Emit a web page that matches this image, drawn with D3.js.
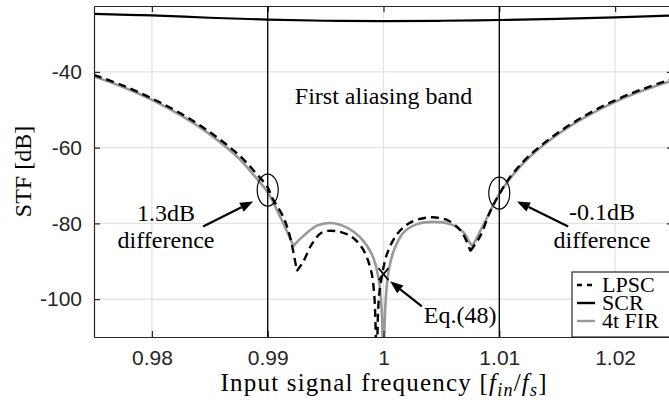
<!DOCTYPE html>
<html>
<head>
<meta charset="utf-8">
<script src="https://cdn.jsdelivr.net/npm/d3@7"></script>
<style>
body{margin:0;background:#fff;}
svg{display:block;}
.tick text{font-family:"Liberation Sans",Arial,sans-serif;font-size:21px;fill:#262626;}
.serif{font-family:"Liberation Serif","Times New Roman",serif;font-size:24px;fill:#000;}
</style>
</head>
<body>
<div id="canvas"></div>
<script>
// values (frequency in f_in/f_s, STF in dB)
var freqLPSC = [0.975,0.9775,0.98,0.9825,0.985,0.9875,0.989,0.99,0.99036,0.99136,0.99194,0.99252,
  0.99309,0.99381,0.99468,0.99583,0.99713,0.99814,0.99886,0.9992,0.99941,0.99957,0.99983,
  1.00029,1.00116,1.00231,1.00404,1.00563,1.00678,1.0075,1.00836,1.00923,1.01,1.011,1.0125,
  1.015,1.0175,1.02,1.0225,1.025];
var stfLPSC = [-40.8,-43.6,-47.0,-51.0,-55.9,-61.9,-66.8,-70.5,-73.1,-78.4,-83.7,-92.6,
  -90.0,-85.5,-82.4,-82.0,-83.3,-86.4,-91.7,-98.8,-130,-101,-94.5,
  -88.2,-82.9,-79.8,-78.4,-79.3,-82.4,-87.3,-83.3,-76.7,-72.3,-67.5,-62.4,
  -56.2,-51.4,-47.5,-44.4,-41.8];

var freqSCR = [0.975,0.98,0.985,0.99,0.995,1.0,1.005,1.01,1.015,1.02,1.025];
var stfSCR = [-24.7,-25.1,-25.7,-26.2,-26.5,-26.6,-26.5,-26.3,-26.0,-25.6,-25.1];

var freqFIR = [0.975,0.9775,0.98,0.9825,0.985,0.9875,0.989,0.99,0.991,0.992,0.99223,0.9925,
  0.99309,0.99425,0.9954,0.99684,0.99799,0.999,0.99957,0.99985,1.0,1.00015,1.00044,1.00088,
  1.00174,1.0029,1.00433,1.00577,1.00692,1.00735,1.00764,1.00793,1.00836,1.00923,1.01,1.011,
  1.0125,1.015,1.0175,1.02,1.0225,1.025];
var stfFIR = [-41.2,-44.0,-47.4,-51.5,-56.5,-62.8,-68.0,-71.8,-77.8,-84.4,-86.0,-85.0,
  -83.3,-80.6,-79.9,-81.1,-83.7,-88.2,-94.4,-103.2,-135,-102.3,-92.6,-87.3,
  -82.4,-80.2,-79.6,-80.2,-82.4,-84.6,-86.0,-84.6,-82.0,-76.7,-72.2,-67.9,
  -62.8,-56.6,-51.8,-47.9,-44.8,-42.2];

var seriesNames = ['LPSC','SCR','4t FIR'];
var xTicks = [0.98,0.99,1,1.01,1.02];
var xTickLabels = ['0.98','0.99','1','1.01','1.02'];
var yTicks = [-100,-80,-60,-40];
var yTickLabels = ['-100','-80','-60','-40'];
var bandEdges = [0.99,1.01];

// margin convention (right edge of the axes sits just past the window)
var m = {t:6,r:-4,b:63,l:94};
var outerWidth = 669, outerHeight = 400;
var w = outerWidth - m.l - m.r,
    h = outerHeight - m.t - m.b;

var svg = d3.select('#canvas')
    .append('svg')
    .attr('width',outerWidth)
    .attr('height',outerHeight);

var plot = svg.append('g')
    .attr('transform','translate(' + m.l + ',' + m.t + ')');

var scaleX = d3.scaleLinear().domain([0.975,1.025]).range([0,w]);
var scaleY = d3.scaleLinear().domain([-110,-22.6]).range([h,0]);

svg.append('defs').append('clipPath').attr('id','clip')
    .append('rect').attr('width',w).attr('height',h);

//grid
plot.selectAll('.gx').data(xTicks).enter().append('line')
    .attr('x1',function(d){return scaleX(d)}).attr('x2',function(d){return scaleX(d)})
    .attr('y1',0).attr('y2',h)
    .attr('stroke','#e2e2e2').attr('stroke-width',1.2);
plot.selectAll('.gy').data(yTicks).enter().append('line')
    .attr('y1',function(d){return scaleY(d)}).attr('y2',function(d){return scaleY(d)})
    .attr('x1',0).attr('x2',w)
    .attr('stroke','#e2e2e2').attr('stroke-width',1.2);

//curves: smooth lobes, joined sharply at the notches / cusps (local minima)
var line = d3.line()
    .x(function(d){return scaleX(d[0])})
    .y(function(d){return scaleY(d[1])})
    .curve(d3.curveCatmullRom.alpha(0.5));

function lobes(fr,v){
    var pts = d3.zip(fr,v), segs = [], cur = [pts[0]];
    for (var i = 1; i < pts.length; i++){
        cur.push(pts[i]);
        if (i < pts.length-1 && v[i] < v[i-1] && v[i] < v[i+1]){
            segs.push(cur);
            cur = [pts[i]];
        }
    }
    segs.push(cur);
    return segs.map(function(s){ return line(s); }).join('');
}

var curves = plot.append('g').attr('clip-path','url(#clip)');

curves.append('path')
    .attr('d',line(d3.zip(freqSCR,stfSCR)))
    .attr('fill','none').attr('stroke','#000').attr('stroke-width',2.2);
curves.append('path')
    .attr('d',lobes(freqFIR,stfFIR))
    .attr('fill','none').attr('stroke','#999').attr('stroke-width',2.6)
    .attr('stroke-linejoin','round');
curves.append('path')
    .attr('d',lobes(freqLPSC,stfLPSC))
    .attr('fill','none').attr('stroke','#000').attr('stroke-width',2.4)
    .attr('stroke-dasharray','8,5');

//axes
function styleAxis(g){
    g.select('.domain').attr('stroke','#262626').attr('stroke-width',1.2);
    g.selectAll('.tick line').attr('stroke','#262626').attr('stroke-width',1.2);
}
plot.append('g').attr('transform','translate(0,' + h + ')')
    .call(d3.axisBottom(scaleX).tickValues(xTicks)
        .tickFormat(function(d,i){return xTickLabels[i]})
        .tickSize(-6).tickSizeOuter(0).tickPadding(13))
    .call(styleAxis);
plot.append('g')
    .call(d3.axisTop(scaleX).tickValues(xTicks).tickFormat('')
        .tickSize(-6).tickSizeOuter(0))
    .call(styleAxis);
plot.append('g')
    .call(d3.axisLeft(scaleY).tickValues(yTicks)
        .tickFormat(function(d,i){return yTickLabels[i]})
        .tickSize(-6).tickSizeOuter(0).tickPadding(12))
    .call(styleAxis);
plot.append('g').attr('transform','translate(' + w + ',0)')
    .call(d3.axisRight(scaleY).tickValues(yTicks).tickFormat('')
        .tickSize(-6).tickSizeOuter(0))
    .call(styleAxis);

//aliasing band edges
plot.selectAll('.edge').data(bandEdges).enter().append('line')
    .attr('x1',function(d){return scaleX(d)}).attr('x2',function(d){return scaleX(d)})
    .attr('y1',0).attr('y2',h)
    .attr('stroke','#000').attr('stroke-width',1.3);

//annotations
plot.append('ellipse').attr('cx',scaleX(0.99)).attr('cy',scaleY(-71.2))
    .attr('rx',10.5).attr('ry',16).attr('fill','none').attr('stroke','#000').attr('stroke-width',1.2);
plot.append('ellipse').attr('cx',scaleX(1.01)).attr('cy',scaleY(-72.0))
    .attr('rx',10.5).attr('ry',16).attr('fill','none').attr('stroke','#000').attr('stroke-width',1.2);

function arrow(f0,v0,f1,v1){
    var x0 = scaleX(f0), y0 = scaleY(v0), x1 = scaleX(f1), y1 = scaleY(v1);
    var a = Math.atan2(y1-y0,x1-x0), L = 13, W = 5;
    var bx = x1 - L*Math.cos(a), by = y1 - L*Math.sin(a);
    plot.append('line').attr('x1',x0).attr('y1',y0).attr('x2',bx).attr('y2',by)
        .attr('stroke','#000').attr('stroke-width',2.2);
    plot.append('path')
        .attr('d','M' + x1 + ',' + y1 +
            'L' + (bx + W*Math.sin(a)) + ',' + (by - W*Math.cos(a)) +
            'L' + (bx - W*Math.sin(a)) + ',' + (by + W*Math.cos(a)) + 'Z')
        .attr('fill','#000');
}
arrow(0.98442,-80.8,0.98874,-74.2);
arrow(1.01595,-80.8,1.01152,-74.2);
arrow(1.00331,-101.9,1.00057,-95.3);

//Eq.(48) marker
var mx = scaleX(1.0), my = scaleY(-93.4);
plot.append('path')
    .attr('d','M'+(mx-5)+','+(my-6)+'L'+(mx+5)+','+(my+6)+'M'+(mx-5)+','+(my+6)+'L'+(mx+5)+','+(my-6))
    .attr('stroke','#000').attr('stroke-width',1.6).attr('fill','none');

function label(f,v,txt){
    plot.append('text').attr('class','serif')
        .attr('x',scaleX(f)).attr('y',scaleY(v))
        .attr('text-anchor','middle').text(txt);
}
label(1.0,-48.4,'First aliasing band');
label(0.98122,-79.5,'1.3dB');
label(0.98122,-86.5,'difference');
label(1.01886,-79.0,'-0.1dB');
label(1.01886,-86.5,'difference');
label(1.00662,-106.2,'Eq.(48)');

//axis titles
var xl = plot.append('text').attr('class','serif').style('font-size','25px')
    .attr('x',w/2).attr('y',h+54).attr('text-anchor','middle')
    .attr('textLength',326).attr('lengthAdjust','spacing');
xl.append('tspan').text('Input signal frequency [');
xl.append('tspan').attr('font-style','italic').text('f');
xl.append('tspan').attr('font-style','italic').attr('font-size','18px').attr('dy',5).text('in');
xl.append('tspan').attr('dy',-5).text('/');
xl.append('tspan').attr('font-style','italic').text('f');
xl.append('tspan').attr('font-style','italic').attr('font-size','18px').attr('dy',5).text('s');
xl.append('tspan').attr('dy',-5).text(']');

plot.append('text').attr('class','serif')
    .attr('transform','translate(' + (31 - m.l) + ',' + (h/2) + ') rotate(-90)')
    .attr('text-anchor','middle').text('STF [dB]');

//legend
var lg = plot.append('g').attr('transform','translate(' + (w-101) + ',' + (h-65) + ')');
lg.append('rect').attr('width',110).attr('height',65)
    .attr('fill','#fff').attr('stroke','#262626').attr('stroke-width',1.2);
var legStyles = [['#000','5,5'],['#000',null],['#999',null]];
seriesNames.forEach(function(name,i){
    var yy = 13 + i*18;
    lg.append('line').attr('x1',5).attr('x2',23).attr('y1',yy).attr('y2',yy)
        .attr('stroke',legStyles[i][0]).attr('stroke-width',2.4)
        .attr('stroke-dasharray',legStyles[i][1]);
    lg.append('text').attr('class','serif').style('font-size','22px')
        .attr('x',30).attr('y',yy+7).text(name);
});
</script>
</body>
</html>
